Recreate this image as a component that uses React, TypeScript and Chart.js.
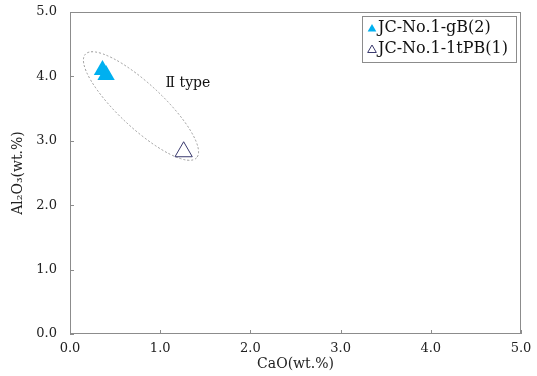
import React, { useEffect, useRef } from 'react';
import { Chart, registerables } from 'chart.js';

Chart.register(...registerables);

// ---- data ----
const gbPoints = [
  { x: 0.36, y: 4.1 },
  { x: 0.4, y: 4.02 },
];
const ltpbPoints = [{ x: 1.26, y: 2.83 }];
const seriesLabels = ['JC-No.1-gB(2)', 'JC-No.1-1tPB(1)'];
const axisMin = 0;
const axisMax = 5;
const axisStep = 1;
const xTitle = 'CaO(wt.%)';
const yTitle = 'Al₂O₃(wt.%)';
const groupLabel = 'Ⅱ type';
const groupLabelAt = { x: 1.06, y: 3.89 };
const groupEllipseCenter = { x: 0.787, y: 3.54 };

const FONT = '"DejaVu Serif", "Liberation Serif", serif';
const CYAN = '#00b0f0';
const NAVY = '#3a3a6e';
const FRAME = '#8c8c8c';

function triPath(ctx: CanvasRenderingContext2D, cx: number, cy: number, r: number) {
  ctx.beginPath();
  for (let i = 0; i < 3; i++) {
    const a = (i * 2 * Math.PI) / 3;
    const px = cx + Math.sin(a) * r;
    const py = cy - Math.cos(a) * r;
    if (i === 0) ctx.moveTo(px, py);
    else ctx.lineTo(px, py);
  }
  ctx.closePath();
}

const decorPlugin = {
  id: 'decor',
  beforeDatasetsDraw(chart: any) {
    const { ctx, chartArea: a, scales } = chart;
    const xs = scales.x;
    const ys = scales.y;
    ctx.save();
    // frame
    ctx.strokeStyle = FRAME;
    ctx.lineWidth = 1;
    ctx.strokeRect(a.left + 0.5, a.top + 0.5, a.right - a.left - 1, a.bottom - a.top - 1);
    // inner tick marks
    ctx.beginPath();
    xs.ticks.forEach((_t: any, i: number) => {
      const px = Math.round(xs.getPixelForTick(i)) + 0.5;
      ctx.moveTo(px, a.bottom);
      ctx.lineTo(px, a.bottom - 4);
    });
    ys.ticks.forEach((_t: any, i: number) => {
      const py = Math.round(ys.getPixelForTick(i)) + 0.5;
      ctx.moveTo(a.left, py);
      ctx.lineTo(a.left + 4, py);
    });
    ctx.stroke();
    // group ellipse
    const cx = xs.getPixelForValue(groupEllipseCenter.x);
    const cy = ys.getPixelForValue(groupEllipseCenter.y);
    ctx.setLineDash([2, 2]);
    ctx.strokeStyle = '#9a9a9a';
    ctx.beginPath();
    ctx.ellipse(cx, cy, 76, 22, (43 * Math.PI) / 180, 0, 2 * Math.PI);
    ctx.stroke();
    ctx.setLineDash([]);
    // group label
    ctx.fillStyle = '#111';
    ctx.font = `14px ${FONT}`;
    ctx.textAlign = 'left';
    ctx.textBaseline = 'middle';
    ctx.fillText(groupLabel, xs.getPixelForValue(groupLabelAt.x), ys.getPixelForValue(groupLabelAt.y));
    ctx.restore();
  },
  afterDraw(chart: any) {
    const { ctx, chartArea: a } = chart;
    ctx.save();
    const w = 154;
    const h = 46;
    const left = a.right - 5 - w;
    const top = a.top + 4;
    ctx.fillStyle = '#fff';
    ctx.fillRect(left, top, w, h);
    ctx.strokeStyle = FRAME;
    ctx.lineWidth = 1;
    ctx.strokeRect(Math.round(left) + 0.5, Math.round(top) + 0.5, w, h);
    ctx.font = `16px ${FONT}`;
    ctx.textAlign = 'left';
    ctx.textBaseline = 'middle';
    const rows = [top + 12, top + 33];
    chart.data.datasets.forEach((ds: any, i: number) => {
      const ry = rows[i];
      triPath(ctx, left + 10, ry + 1, 5);
      if (i === 0) {
        ctx.fillStyle = CYAN;
        ctx.fill();
      } else {
        ctx.strokeStyle = NAVY;
        ctx.stroke();
      }
      ctx.fillStyle = '#111';
      ctx.fillText(ds.label, left + 16, ry);
    });
    ctx.restore();
  },
};

export default function App() {
  const ref = useRef<HTMLCanvasElement | null>(null);
  useEffect(() => {
    if (!ref.current) return;
    const tickFont = { family: FONT, size: 13 };
    const chart = new Chart(ref.current, {
      type: 'scatter',
      data: {
        datasets: [
          {
            label: seriesLabels[0],
            data: gbPoints,
            pointStyle: 'triangle',
            pointRadius: 10,
            backgroundColor: CYAN,
            borderColor: CYAN,
            borderWidth: 0,
          },
          {
            label: seriesLabels[1],
            data: ltpbPoints,
            pointStyle: 'triangle',
            pointRadius: 10,
            backgroundColor: 'rgba(0,0,0,0)',
            borderColor: NAVY,
            borderWidth: 1,
          },
        ],
      },
      options: {
        responsive: false,
        animation: false,
        devicePixelRatio: 1,
        layout: { padding: { top: 12, right: 16, left: 0, bottom: 0 } },
        plugins: { legend: { display: false }, tooltip: { enabled: false } },
        scales: {
          x: {
            type: 'linear',
            min: axisMin,
            max: axisMax,
            grid: { display: false, drawTicks: false },
            border: { display: false },
            ticks: {
              stepSize: axisStep,
              padding: 7,
              color: '#222',
              font: tickFont,
              maxRotation: 0,
              callback: (v: any) => Number(v).toFixed(1),
            },
            title: {
              display: true,
              text: xTitle,
              color: '#222',
              font: { family: FONT, size: 14 },
              padding: { top: 0, bottom: 3 },
            },
            afterFit: (s: any) => {
              s.height = 42;
              s.paddingLeft = 0;
              s.paddingRight = 0;
              s.paddingTop = 0;
              s.paddingBottom = 0;
            },
          },
          y: {
            type: 'linear',
            min: axisMin,
            max: axisMax,
            grid: { display: false, drawTicks: false },
            border: { display: false },
            ticks: {
              stepSize: axisStep,
              padding: 13,
              color: '#222',
              font: tickFont,
              callback: (v: any) => Number(v).toFixed(1),
            },
            title: {
              display: true,
              text: yTitle,
              color: '#222',
              font: { family: FONT, size: 14 },
              padding: { top: 10, bottom: 0 },
            },
            afterFit: (s: any) => {
              s.width = 70;
              s.paddingLeft = 0;
              s.paddingRight = 0;
              s.paddingTop = 0;
              s.paddingBottom = 0;
            },
          },
        },
      },
      plugins: [decorPlugin],
    });
    return () => chart.destroy();
  }, []);
  return (
    <div style={{ position: 'absolute', left: 0, top: 0, width: 537, height: 376, background: '#fff' }}>
      <canvas ref={ref} width={537} height={376} />
    </div>
  );
}
